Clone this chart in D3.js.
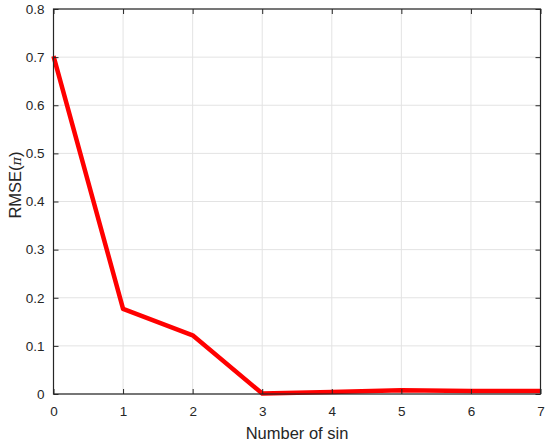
<!DOCTYPE html>
<html>
<head>
	<title></title>
	<style>
		body { margin: 0; background: #fff; }
		text { font-family: "Liberation Sans", Arial, sans-serif; fill: #262626; }
	</style>
</head>
<body>

<svg id="chart" width="550" height="443"></svg>

<script src="https://d3js.org/d3.v7.min.js"></script>
<script>
	// Data
	const sinCount = [0, 1, 2, 3, 4, 5, 6, 7]
	const rmse = [0.702, 0.177, 0.122, 0.001, 0.004, 0.008, 0.006, 0.006]
	const xTicks = [0, 1, 2, 3, 4, 5, 6, 7]
	const yTicks = [0, 0.1, 0.2, 0.3, 0.4, 0.5, 0.6, 0.7, 0.8]

	const mLeft = 53.5, mRight = 540.5, mTop = 9, mBottom = 394

	const x = d3.scaleLinear().domain([0, 7]).range([mLeft, mRight])
	const y = d3.scaleLinear().domain([0, 0.8]).range([mBottom, mTop])

	const svg = d3.select('#chart')

	// grid
	svg.append('g')
		.selectAll('line')
		.data(xTicks)
		.enter()
		.append('line')
		.attr('x1', d => x(d)).attr('x2', d => x(d))
		.attr('y1', mTop).attr('y2', mBottom)
		.attr('stroke', '#e3e3e3').attr('stroke-width', 1)

	svg.append('g')
		.selectAll('line')
		.data(yTicks)
		.enter()
		.append('line')
		.attr('x1', mLeft).attr('x2', mRight)
		.attr('y1', d => y(d)).attr('y2', d => y(d))
		.attr('stroke', '#e3e3e3').attr('stroke-width', 1)

	// the curve
	const line = d3.line()
		.x((d, i) => x(sinCount[i]))
		.y(d => y(d))

	svg.append('path')
		.datum(rmse)
		.attr('d', line)
		.attr('fill', 'none')
		.attr('stroke', '#ff0000')
		.attr('stroke-width', 4.5)
		.attr('stroke-linejoin', 'round')

	// box
	svg.append('rect')
		.attr('x', mLeft).attr('y', mTop)
		.attr('width', mRight - mLeft).attr('height', mBottom - mTop)
		.attr('fill', 'none')
		.attr('stroke', '#262626').attr('stroke-width', 1.2)

	// axes (ticks inside, like matlab)
	const xAxis = svg.append('g')
		.attr('transform', `translate(0, ${mBottom})`)
		.call(d3.axisBottom(x).tickValues(xTicks).tickSize(-5).tickPadding(12).tickFormat(d3.format('d')))
	const xTop = svg.append('g')
		.attr('transform', `translate(0, ${mTop})`)
		.call(d3.axisTop(x).tickValues(xTicks).tickSize(-5).tickFormat(''))
	const yAxis = svg.append('g')
		.attr('transform', `translate(${mLeft}, 0)`)
		.call(d3.axisLeft(y).tickValues(yTicks).tickSize(-5).tickPadding(9).tickFormat(d => d === 0 ? '0' : d3.format('.1f')(d)))
	const yRight = svg.append('g')
		.attr('transform', `translate(${mRight}, 0)`)
		.call(d3.axisRight(y).tickValues(yTicks).tickSize(-5).tickFormat(''))

	for (const a of [xAxis, xTop, yAxis, yRight]) {
		a.select('.domain').remove()
		a.selectAll('.tick line').attr('stroke', '#262626')
		a.selectAll('text').attr('font-size', 13.5).attr('fill', '#262626')
			.attr('font-family', '"Liberation Sans", Arial, sans-serif')
	}

	// labels
	svg.append('text')
		.attr('x', 297)
		.attr('y', 439)
		.attr('text-anchor', 'middle')
		.attr('font-size', 16.5)
		.text('Number of sin')

	const yl = svg.append('text')
		.attr('transform', 'translate(21, 185) rotate(-90)')
		.attr('text-anchor', 'middle')
		.attr('font-size', 16.5)
	yl.append('tspan').text('RMSE(')
	yl.append('tspan').text('π')
		.style('font-family', '"DejaVu Serif", serif')
		.style('font-style', 'italic')
		.attr('font-size', 13)
	yl.append('tspan').text(')')
</script>
</body>
</html>
